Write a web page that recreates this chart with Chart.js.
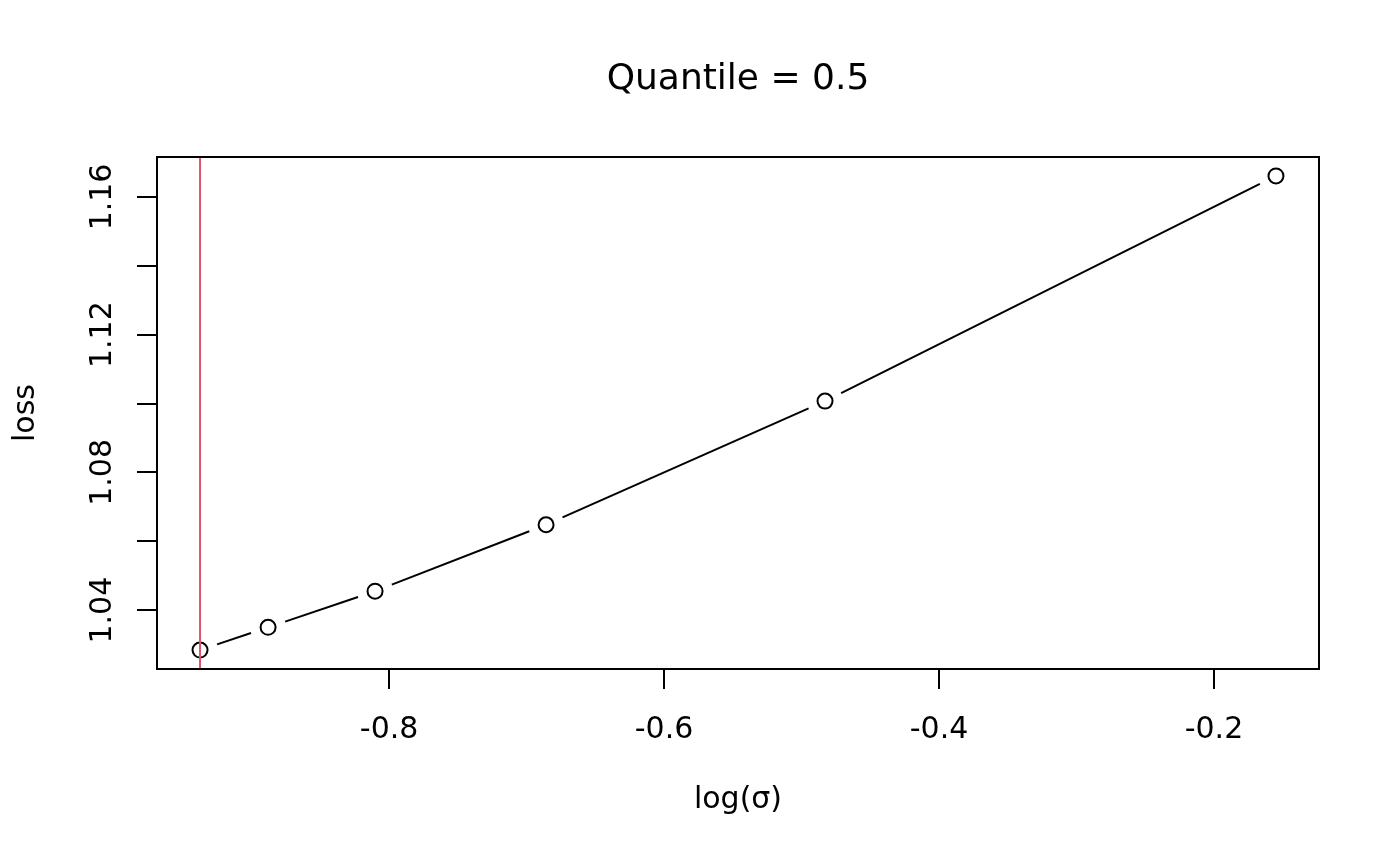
<!DOCTYPE html>
<html>
<head>
<meta charset="utf-8">
<script src="https://cdn.jsdelivr.net/npm/chart.js@4"></script>
<style>
  body { margin: 0; background: #fff; }
  canvas { display: block; }
</style>
</head>
<body>
<canvas id="lossChart" width="1400" height="866"></canvas>
<script>
// data
const logSigma = [-0.9375, -0.888, -0.8102, -0.6858, -0.4829, -0.1549];
const loss = [1.0284, 1.0350, 1.0455, 1.0648, 1.1007, 1.1661];
const bestSigma = -0.9375; // red line = minimum loss

const xTicks = [-0.8, -0.6, -0.4, -0.2];
const yTicks = [1.04, 1.06, 1.08, 1.10, 1.12, 1.14, 1.16];
const yLabelled = ['1.04', '1.08', '1.12', '1.16'];

const chartTitle = 'Quantile = 0.5';
const xTitle = 'log(σ)';
const yTitle = 'loss';

const FONT = 'DejaVu Sans';

// R type="b": line segments with a gap around each point
const gappedLine = {
    id: 'gappedLine',
    beforeDatasetsDraw(chart) {
        const pts = chart.getDatasetMeta(0).data;
        const gap = 18;
        const ctx = chart.ctx;
        ctx.save();
        ctx.strokeStyle = '#000';
        ctx.lineWidth = 2;
        for (let i = 0; i < pts.length - 1; i++) {
            const a = pts[i], b = pts[i + 1];
            const dx = b.x - a.x, dy = b.y - a.y;
            const d = Math.hypot(dx, dy);
            if (d <= 2 * gap) continue;
            const ux = dx / d, uy = dy / d;
            ctx.beginPath();
            ctx.moveTo(a.x + ux * gap, a.y + uy * gap);
            ctx.lineTo(b.x - ux * gap, b.y - uy * gap);
            ctx.stroke();
        }
        ctx.restore();
    },
    afterDatasetsDraw(chart) {
        const {ctx, chartArea, scales} = chart;
        ctx.save();
        // red vertical line
        const xr = scales.x.getPixelForValue(bestSigma);
        ctx.strokeStyle = '#DF536B';
        ctx.lineWidth = 2;
        ctx.beginPath();
        ctx.moveTo(xr, chartArea.top);
        ctx.lineTo(xr, chartArea.bottom);
        ctx.stroke();
        // box around the plot
        ctx.strokeStyle = '#000';
        ctx.strokeRect(chartArea.left, chartArea.top, chartArea.right - chartArea.left, chartArea.bottom - chartArea.top);
        // main title centred over the plot region
        ctx.fillStyle = '#000';
        ctx.font = '36px "' + FONT + '"';
        ctx.textAlign = 'center';
        ctx.textBaseline = 'middle';
        ctx.fillText(chartTitle, (chartArea.left + chartArea.right) / 2, 80);
        ctx.restore();
    }
};

new Chart(document.getElementById('lossChart'), {
    type: 'line',
    data: {
        datasets: [{
            data: logSigma.map((x, i) => ({x: x, y: loss[i]})),
            showLine: false,
            pointStyle: 'circle',
            pointRadius: 7.5,
            pointBorderWidth: 2,
            pointBorderColor: '#000',
            pointBackgroundColor: 'rgba(0,0,0,0)',
        }],
    },
    options: {
        responsive: false,
        animation: false,
        devicePixelRatio: 1,
        layout: {padding: {top: 157, right: 81, left: 0, bottom: 0}},
        plugins: {
            legend: {display: false},
            tooltip: {enabled: false},
        },
        scales: {
            x: {
                type: 'linear',
                min: -0.9688,
                max: -0.1236,
                afterBuildTicks: s => { s.ticks = xTicks.map(v => ({value: v})); },
                afterFit: s => { s.height = 866 - 669; },
                border: {display: false},
                grid: {drawOnChartArea: false, drawTicks: true, tickLength: 20, color: '#000', lineWidth: 2},
                ticks: {
                    color: '#000',
                    font: {family: FONT, size: 30},
                    padding: 23,
                    maxRotation: 0,
                    callback: v => v.toFixed(1),
                },
                title: {
                    display: true,
                    text: xTitle,
                    color: '#000',
                    font: {family: FONT, size: 30},
                    padding: {top: 0, bottom: 48},
                },
            },
            y: {
                type: 'linear',
                min: 1.0229,
                max: 1.1716,
                afterBuildTicks: s => { s.ticks = yTicks.map(v => ({value: v})); },
                afterFit: s => { s.width = 157; },
                border: {display: false},
                grid: {drawOnChartArea: false, drawTicks: true, tickLength: 20, color: '#000', lineWidth: 2},
                ticks: {
                    color: '#000',
                    font: {family: FONT, size: 30},
                    padding: 0,
                    minRotation: 90,
                    maxRotation: 90,
                    crossAlign: 'center',
                    callback: v => {
                        const t = v.toFixed(2);
                        return yLabelled.includes(t) ? t : '';
                    },
                },
                title: {
                    display: true,
                    text: yTitle,
                    color: '#000',
                    font: {family: FONT, size: 30},
                    padding: {top: 8, bottom: 0},
                },
            },
        },
    },
    plugins: [gappedLine],
});
</script>
</body>
</html>
